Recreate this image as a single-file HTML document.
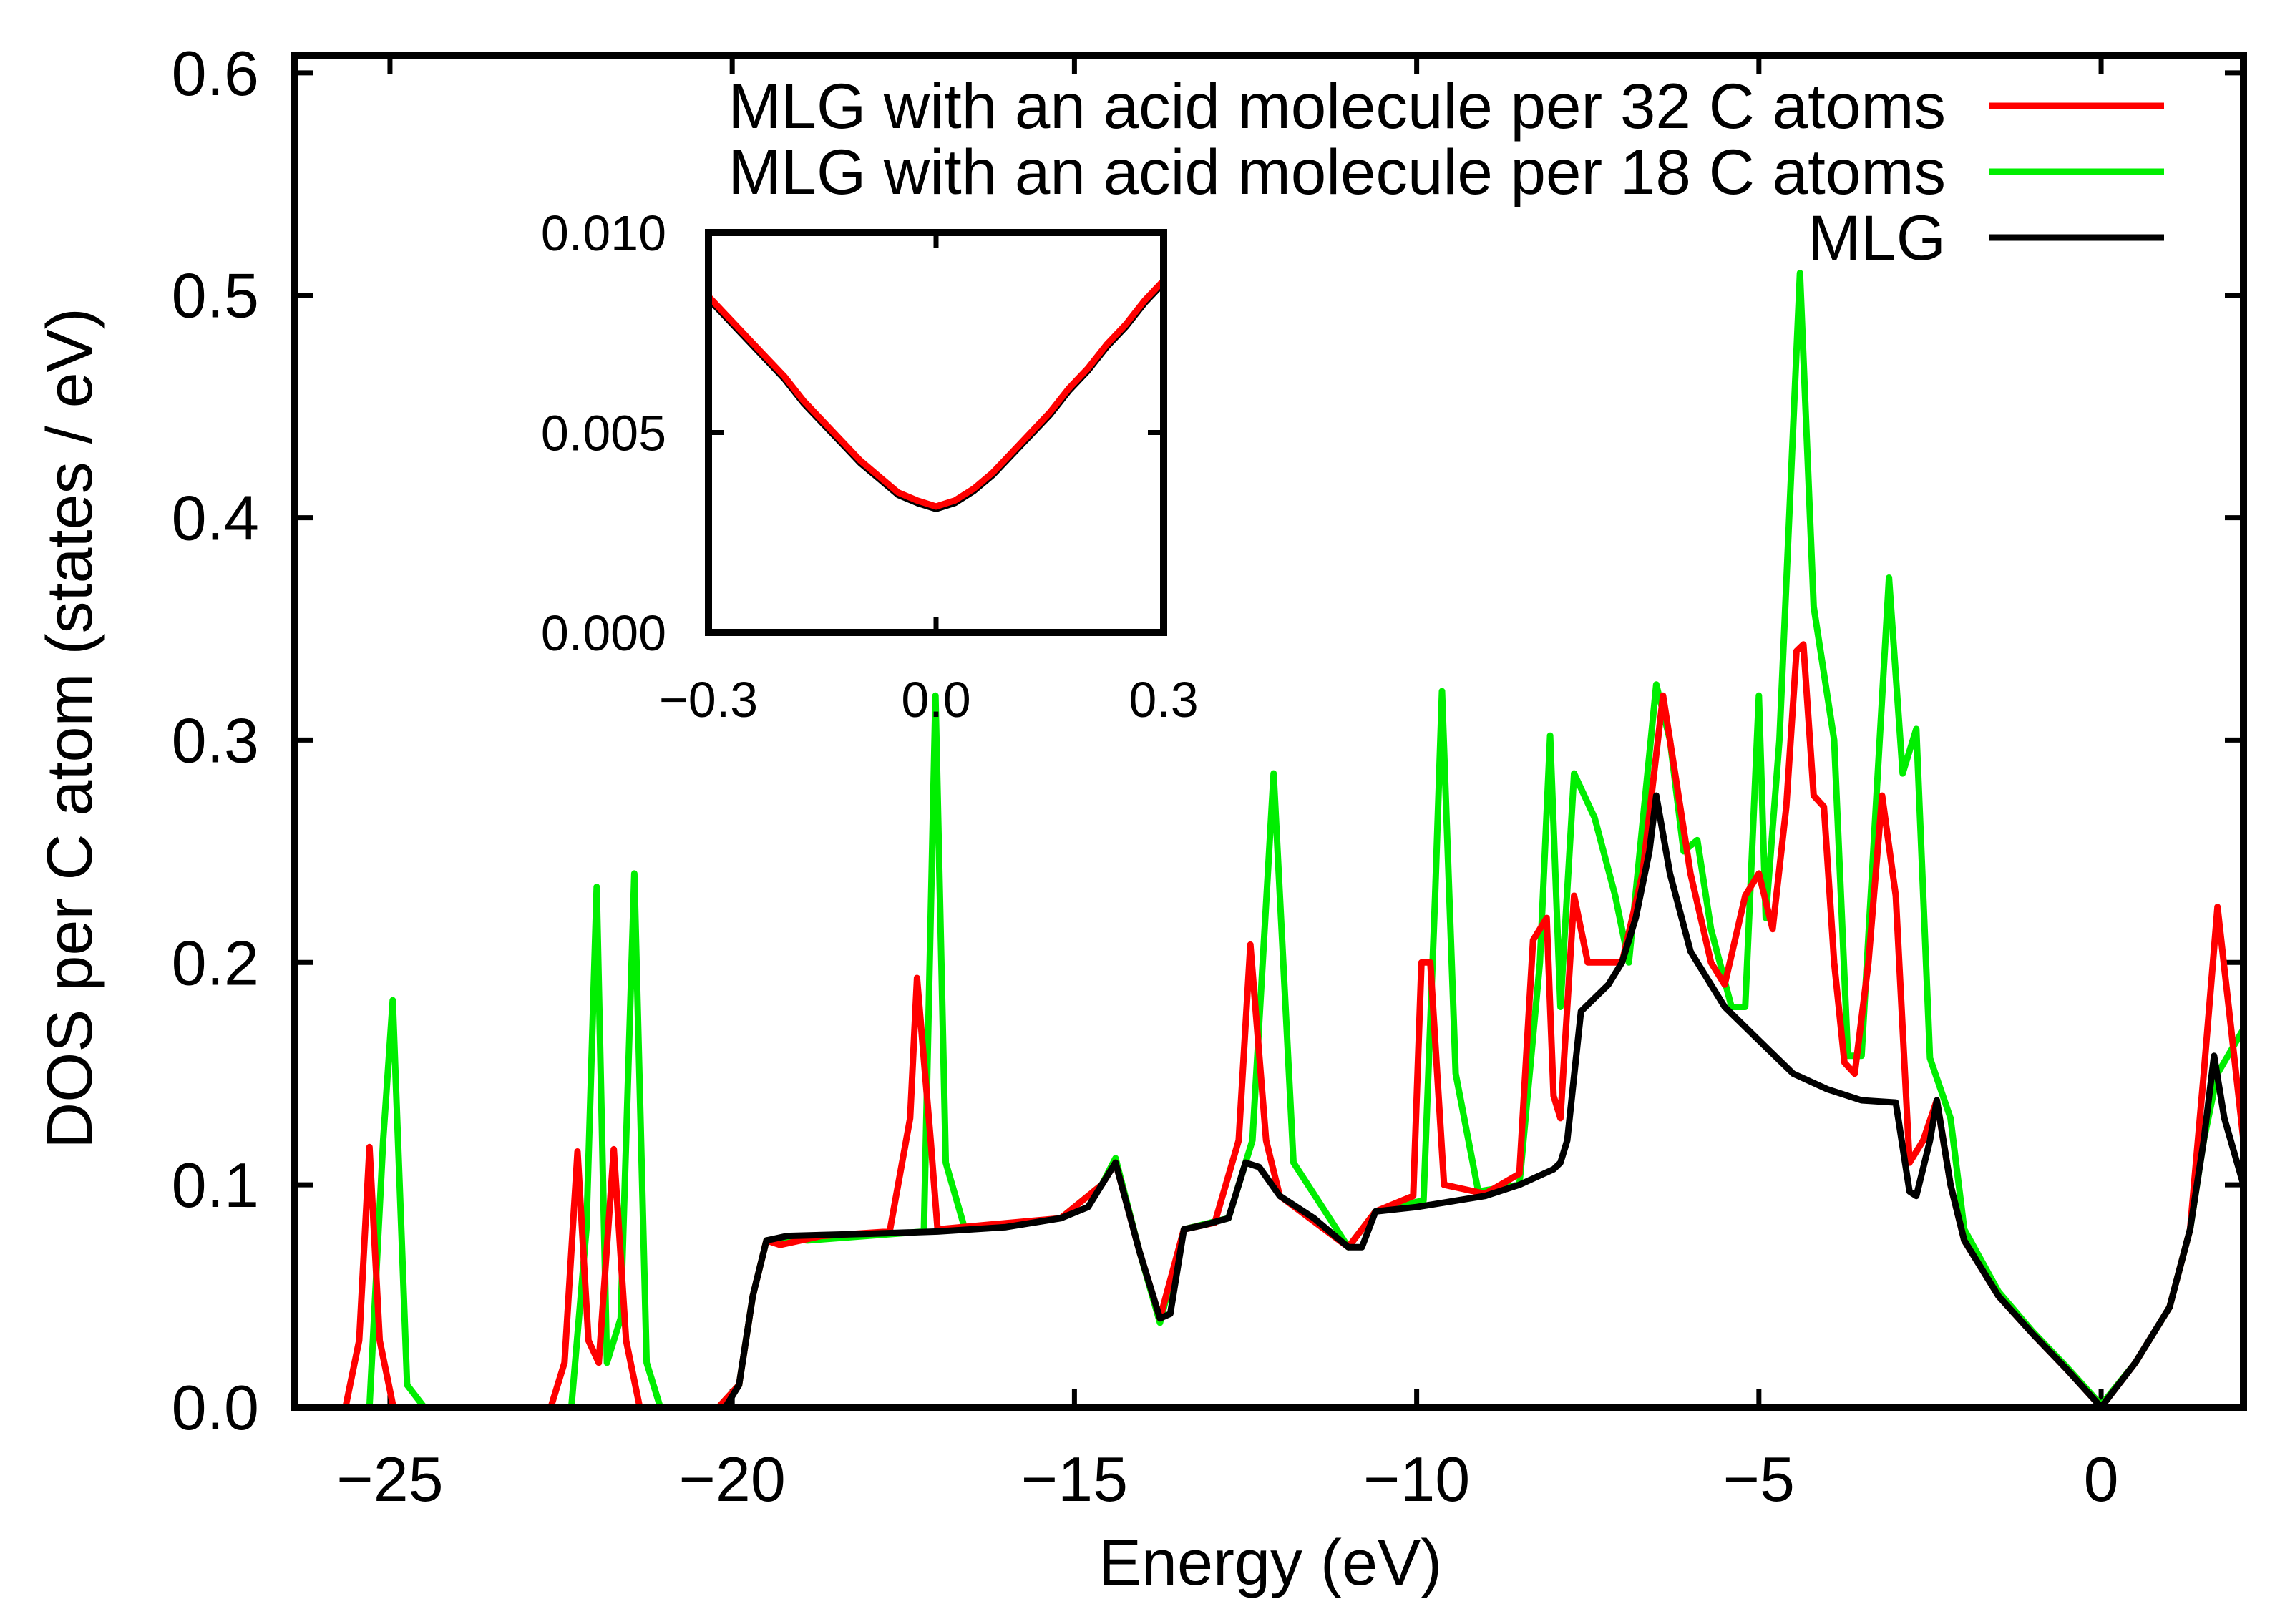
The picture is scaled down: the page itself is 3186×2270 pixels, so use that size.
<!DOCTYPE html>
<html><head><meta charset="utf-8"><style>
html,body{margin:0;padding:0;background:#fff;}
svg{display:block;font-family:"Liberation Sans",sans-serif;}
</style></head><body>
<svg id="chart" width="3186" height="2270" viewBox="0 0 3186 2270">
<defs>
<clipPath id="plotclip"><rect x="412" y="77" width="2723" height="1890"/></clipPath>
<clipPath id="insetclip"><rect x="990" y="325" width="636" height="559"/></clipPath>
</defs>
<g id="axes"></g>
<g id="series" clip-path="url(#plotclip)"></g>
<g id="legend"></g>
<rect x="990" y="325" width="636" height="559" fill="#fff"/>
<g id="inset"></g>
<g id="frames"></g>
</svg>
<script>
const xTicks = [-25,-20,-15,-10,-5,0];
const xTickLabels = ["\u221225","\u221220","\u221215","\u221210","\u22125","0"];
const yTicks = [0,0.1,0.2,0.3,0.4,0.5,0.6];
const yTickLabels = ["0.0","0.1","0.2","0.3","0.4","0.5","0.6"];
const mlgData = [[-26.4,0],[-20.1,0],[-19.9,0.01],[-19.7,0.05],[-19.5,0.075],[-19.2,0.077],[-18,0.078],[-17,0.079],[-16,0.081],[-15.2,0.085],[-14.8,0.09],[-14.6,0.1],[-14.4,0.11],[-14.05,0.07],[-13.75,0.04],[-13.6,0.042],[-13.4,0.08],[-13.1,0.082],[-12.75,0.085],[-12.5,0.11],[-12.3,0.108],[-12.0,0.095],[-11.5,0.085],[-11,0.072],[-10.8,0.072],[-10.6,0.088],[-10,0.09],[-9,0.095],[-8.5,0.1],[-8,0.107],[-7.9,0.11],[-7.8,0.12],[-7.6,0.178],[-7.2,0.19],[-7,0.2],[-6.8,0.22],[-6.6,0.25],[-6.5,0.275],[-6.3,0.24],[-6,0.205],[-5.5,0.18],[-5,0.165],[-4.5,0.15],[-4,0.143],[-3.5,0.138],[-3,0.137],[-2.8,0.097],[-2.7,0.095],[-2.5,0.12],[-2.4,0.138],[-2.2,0.1],[-2,0.075],[-1.5,0.05],[-1,0.033],[-0.5,0.017],[0,0],[0.5,0.02],[1,0.045],[1.3,0.08],[1.5,0.12],[1.65,0.158],[1.8,0.13],[2.08,0.1]];
const acid32Data = [[-26.4,0],[-25.65,0],[-25.45,0.03],[-25.3,0.117],[-25.15,0.03],[-24.95,0],[-22.65,0],[-22.45,0.02],[-22.26,0.115],[-22.1,0.03],[-21.95,0.02],[-21.73,0.116],[-21.55,0.03],[-21.35,0],[-20.2,0],[-19.9,0.01],[-19.7,0.05],[-19.5,0.075],[-19.3,0.073],[-18.7,0.077],[-17.7,0.079],[-17.4,0.13],[-17.3,0.193],[-17.1,0.12],[-17.0,0.08],[-15.2,0.085],[-14.6,0.1],[-14.4,0.11],[-14.05,0.07],[-13.75,0.04],[-13.4,0.08],[-12.95,0.083],[-12.6,0.12],[-12.43,0.208],[-12.2,0.12],[-12.0,0.095],[-11,0.072],[-10.6,0.088],[-10.05,0.095],[-9.93,0.2],[-9.8,0.2],[-9.6,0.1],[-9,0.096],[-8.5,0.105],[-8.3,0.21],[-8.1,0.22],[-8,0.14],[-7.9,0.13],[-7.7,0.23],[-7.5,0.2],[-7.3,0.2],[-7,0.2],[-6.7,0.24],[-6.4,0.32],[-6.2,0.28],[-6,0.24],[-5.7,0.2],[-5.5,0.19],[-5.2,0.23],[-5.0,0.24],[-4.8,0.215],[-4.6,0.27],[-4.45,0.34],[-4.35,0.343],[-4.2,0.275],[-4.05,0.27],[-3.9,0.2],[-3.75,0.155],[-3.6,0.15],[-3.4,0.2],[-3.2,0.275],[-3.0,0.23],[-2.8,0.11],[-2.6,0.12],[-2.4,0.138],[-2.2,0.1],[-2,0.075],[-1.5,0.05],[-1,0.033],[-0.5,0.017],[0,0],[0.5,0.02],[1,0.045],[1.3,0.08],[1.5,0.15],[1.7,0.225],[1.9,0.17],[2.08,0.12]];
const acid18Data = [[-26.4,0],[-25.3,0],[-25.1,0.12],[-24.96,0.183],[-24.75,0.01],[-24.5,0],[-22.35,0],[-22.13,0.08],[-21.98,0.234],[-21.83,0.02],[-21.63,0.04],[-21.43,0.24],[-21.25,0.02],[-21.05,0],[-20.2,0],[-19.9,0.01],[-19.7,0.05],[-19.5,0.075],[-19.2,0.076],[-18.9,0.075],[-17.2,0.079],[-17.03,0.32],[-16.88,0.11],[-16.6,0.08],[-15.2,0.085],[-14.6,0.1],[-14.4,0.112],[-14.05,0.07],[-13.75,0.038],[-13.4,0.08],[-12.75,0.085],[-12.4,0.12],[-12.09,0.285],[-11.8,0.11],[-11,0.072],[-10.6,0.088],[-9.9,0.093],[-9.73,0.23],[-9.63,0.322],[-9.43,0.15],[-9.1,0.097],[-8.5,0.1],[-8.2,0.2],[-8.05,0.302],[-7.9,0.18],[-7.7,0.285],[-7.4,0.265],[-7.1,0.23],[-6.9,0.2],[-6.5,0.325],[-6.3,0.3],[-6.1,0.25],[-5.9,0.255],[-5.7,0.215],[-5.4,0.18],[-5.2,0.18],[-5.0,0.32],[-4.9,0.22],[-4.7,0.3],[-4.4,0.51],[-4.2,0.36],[-3.9,0.3],[-3.7,0.158],[-3.5,0.158],[-3.1,0.373],[-2.9,0.285],[-2.7,0.305],[-2.5,0.157],[-2.2,0.13],[-2,0.08],[-1.5,0.052],[-1,0.034],[-0.5,0.018],[0,0.001],[0.5,0.02],[1,0.045],[1.3,0.08],[1.5,0.12],[1.7,0.15],[2.08,0.17]];
const insetX = [-0.3,-0.275,-0.25,-0.225,-0.2,-0.175,-0.15,-0.125,-0.1,-0.075,-0.05,-0.025,0,0.025,0.05,0.075,0.1,0.125,0.15,0.175,0.2,0.225,0.25,0.275,0.3];
const insetY = [0.0084,0.0079,0.0074,0.0069,0.0064,0.0058,0.0053,0.0048,0.0043,0.0039,0.0035,0.0033,0.00315,0.0033,0.0036,0.0040,0.0045,0.0050,0.0055,0.0061,0.0066,0.0072,0.0077,0.0083,0.0088];
const insetXTicks = [-0.3,0,0.3];
const insetXTickLabels = ["\u22120.3","0.0","0.3"];
const insetYTicks = [0,0.005,0.01];
const insetYTickLabels = ["0.000","0.005","0.010"];
const legendLabels = ["MLG with an acid molecule per 32 C atoms","MLG with an acid molecule per 18 C atoms","MLG"];

const NS="http://www.w3.org/2000/svg";
const L=412,R=3135,T=77,B=1967,XMIN=-26.39,XMAX=2.08,YMIN=0,YMAX=0.608;
const sx=v=>L+(v-XMIN)/(XMAX-XMIN)*(R-L);
const sy=v=>B-(v-YMIN)/(YMAX-YMIN)*(B-T);
const IL=990,IR=1626,IT=325,IB=884;
const isx=v=>IL+(v+0.3)/0.6*(IR-IL);
const isy=v=>IB-v/0.01*(IB-IT);
function mk(tag,attrs,parent){const e=document.createElementNS(NS,tag);for(const k in attrs)e.setAttribute(k,attrs[k]);parent.appendChild(e);return e;}
const axes=document.getElementById('axes'),series=document.getElementById('series'),legend=document.getElementById('legend'),inset=document.getElementById('inset'),frames=document.getElementById('frames');

xTicks.forEach((v,i)=>{
  const x=sx(v);
  const t1=mk('line',{x1:x,x2:x,y1:B,y2:B-26,stroke:'#000','stroke-width':7},axes);
  
  
  const t2=mk('line',{x1:x,x2:x,y1:T,y2:T+26,stroke:'#000','stroke-width':7},axes);
  
  
  const tx=mk('text',{x:x,y:2098,'text-anchor':'middle','font-size':88},axes);
  tx.textContent=xTickLabels[i];
  
  
});
yTicks.forEach((v,i)=>{
  const y=sy(v);
  const t1=mk('line',{x1:L,x2:L+26,y1:y,y2:y,stroke:'#000','stroke-width':7},axes);
  
  
  const t2=mk('line',{x1:R,x2:R-26,y1:y,y2:y,stroke:'#000','stroke-width':7},axes);
  
  
  const tx=mk('text',{x:362,y:y+31,'text-anchor':'end','font-size':88},axes);
  tx.textContent=yTickLabels[i];
  
  
});
const xt=mk('text',{x:1775,y:2215,'text-anchor':'middle','font-size':90},axes);
xt.textContent='Energy (eV)';


const yt=mk('text',{x:0,y:0,'text-anchor':'middle','font-size':90,transform:'translate(128,1018) rotate(-90)'},axes);
yt.textContent='DOS per C atom (states / eV)';



function pathOf(data,fx,fy){return data.map((p,i)=>(i?'L':'M')+fx(p[0]).toFixed(1)+','+fy(p[1]).toFixed(1)).join('');}
const defs=[[acid18Data,'#00ee00','series-acid-18'],[acid32Data,'#ff0000','series-acid-32'],[mlgData,'#000000','series-mlg']];
defs.forEach(d=>{
  const p=mk('path',{d:pathOf(d[0],sx,sy),fill:'none',stroke:d[1],'stroke-width':9,'stroke-linejoin':'round'},series);
  
  
});

const legColors=['#ff0000','#00ee00','#000000'];
legendLabels.forEach((s,i)=>{
  const y=148+i*92;
  const tx=mk('text',{x:2719,y:y+31,'text-anchor':'end','font-size':89},legend);
  tx.textContent=s;
  
  
  const ln=mk('line',{x1:2780,x2:3024,y1:y,y2:y,stroke:legColors[i],'stroke-width':9},legend);
  
  
});

const ig=mk('g',{'clip-path':'url(#insetclip)'},inset);
const ipts=insetX.map((x,i)=>[x,insetY[i]]);
const ib=mk('path',{d:pathOf(ipts.map(p=>[p[0],p[1]-0.00006]),isx,isy),fill:'none',stroke:'#000','stroke-width':9,'stroke-linejoin':'round'},ig);


const ir=mk('path',{d:pathOf(ipts,isx,isy),fill:'none',stroke:'#ff0000','stroke-width':9,'stroke-linejoin':'round'},ig);


insetXTicks.forEach((v,i)=>{
  const x=isx(v);
  const t=mk('line',{x1:x,x2:x,y1:IB,y2:IB-22,stroke:'#000','stroke-width':7},inset);
  
  
  const t2=mk('line',{x1:x,x2:x,y1:IT,y2:IT+22,stroke:'#000','stroke-width':7},inset);
  
  
  const tx=mk('text',{x:x,y:1002,'text-anchor':'middle','font-size':70},inset);
  tx.textContent=insetXTickLabels[i];
  
  
});
insetYTicks.forEach((v,i)=>{
  const y=isy(v);
  const t=mk('line',{x1:IL,x2:IL+22,y1:y,y2:y,stroke:'#000','stroke-width':7},inset);
  
  
  const t2=mk('line',{x1:IR,x2:IR-22,y1:y,y2:y,stroke:'#000','stroke-width':7},inset);
  
  
  const tx=mk('text',{x:931,y:y+25,'text-anchor':'end','font-size':70},inset);
  tx.textContent=insetYTickLabels[i];
  
  
});
const f1=mk('rect',{x:L,y:T,width:R-L,height:B-T,fill:'none',stroke:'#000','stroke-width':10},frames);


const f2=mk('rect',{x:IL,y:IT,width:IR-IL,height:IB-IT,fill:'none',stroke:'#000','stroke-width':10},frames);


</script>
</body></html>
